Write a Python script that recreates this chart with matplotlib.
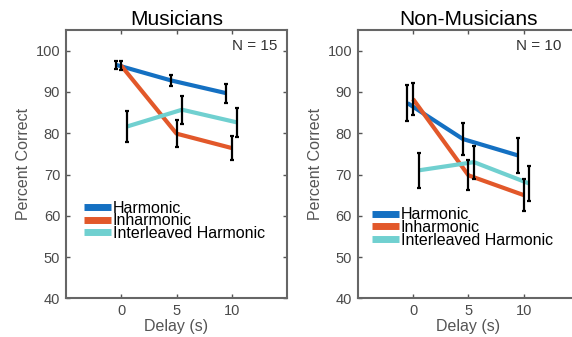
import matplotlib
matplotlib.use('Agg')
import matplotlib.pyplot as plt

plt.rcParams['font.family'] = ['Liberation Sans', 'DejaVu Sans']

# delays (s) and small x offsets so the error bars don't sit on top of each other
delays = [0, 5, 10]
offsets = {'Harmonic': -0.5, 'Inharmonic': 0.0, 'Interleaved Harmonic': 0.5}
colors = {'Harmonic': '#1470c2', 'Inharmonic': '#e2582a', 'Interleaved Harmonic': '#70d0d0'}

# Musicians (N = 15)
mus_harm = [96.6, 92.8, 89.7]
mus_harm_err = [1.0, 1.4, 2.3]
mus_inh = [96.4, 79.9, 76.4]
mus_inh_err = [1.0, 3.2, 3.0]
mus_int = [81.6, 85.7, 82.6]
mus_int_err = [3.8, 3.4, 3.5]

# Non-musicians (N = 10)
non_harm = [87.3, 78.6, 74.6]
non_harm_err = [4.3, 3.8, 4.2]
non_inh = [88.3, 69.8, 65.0]
non_inh_err = [3.8, 3.6, 3.8]
non_int = [71.0, 73.0, 67.8]
non_int_err = [4.2, 4.0, 4.2]

panels = [
    ('Musicians', 'N = 15', [0.1149, 0.1148, 0.3874, 0.796],
     {'Harmonic': (mus_harm, mus_harm_err),
      'Inharmonic': (mus_inh, mus_inh_err),
      'Interleaved Harmonic': (mus_int, mus_int_err)},
     (0.954, 0.925), (0.083, 0.364)),
    ('Non-Musicians', 'N = 10', [0.6252, 0.1148, 0.3874, 0.796],
     {'Harmonic': (non_harm, non_harm_err),
      'Inharmonic': (non_inh, non_inh_err),
      'Interleaved Harmonic': (non_int, non_int_err)},
     (0.921, 0.925), (0.065, 0.339)),
]

fig = plt.figure(figsize=(5.72, 3.37), dpi=100)

for title, ntext, pos, series, npos, legpos in panels:
    ax = fig.add_axes(pos)
    for name, (vals, errs) in series.items():
        x = [d + offsets[name] for d in delays]
        ax.plot(x, vals, color=colors[name], lw=3, label=name, zorder=2,
                solid_capstyle='butt')
    for name, (vals, errs) in series.items():
        x = [d + offsets[name] for d in delays]
        ax.errorbar(x, vals, yerr=errs, fmt='none', ecolor='black',
                    elinewidth=1.6, capsize=1.6, capthick=1.6, zorder=3)

    ax.set_xlim(-5, 15)
    ax.set_ylim(40, 105)
    ax.set_xticks(delays)
    ax.set_yticks(range(40, 101, 10))
    ax.tick_params(direction='in', length=3, width=1, top=True, right=True,
                   labelsize=10.5, labelcolor='#4a4a4a', color='#555555', pad=4)
    for s in ax.spines.values():
        s.set_color('#666666')
        s.set_linewidth(1.5)

    ax.set_title(title, fontsize=15, pad=4)
    ax.set_xlabel('Delay (s)', fontsize=11.5, color='#555555', labelpad=1)
    ax.set_ylabel('Percent Correct', fontsize=11.5, color='#555555', labelpad=3)
    ax.text(npos[0], npos[1], ntext, transform=ax.transAxes, ha='right',
            va='baseline', fontsize=11, color='#333333')

    leg = ax.legend(loc='upper left', bbox_to_anchor=legpos, frameon=False,
                    fontsize=11.5, handlelength=1.7, handletextpad=0.1,
                    labelspacing=-0.15, borderpad=0, borderaxespad=0)
    for line in leg.get_lines():
        line.set_linewidth(5)

plt.savefig('out.png', dpi=100)
